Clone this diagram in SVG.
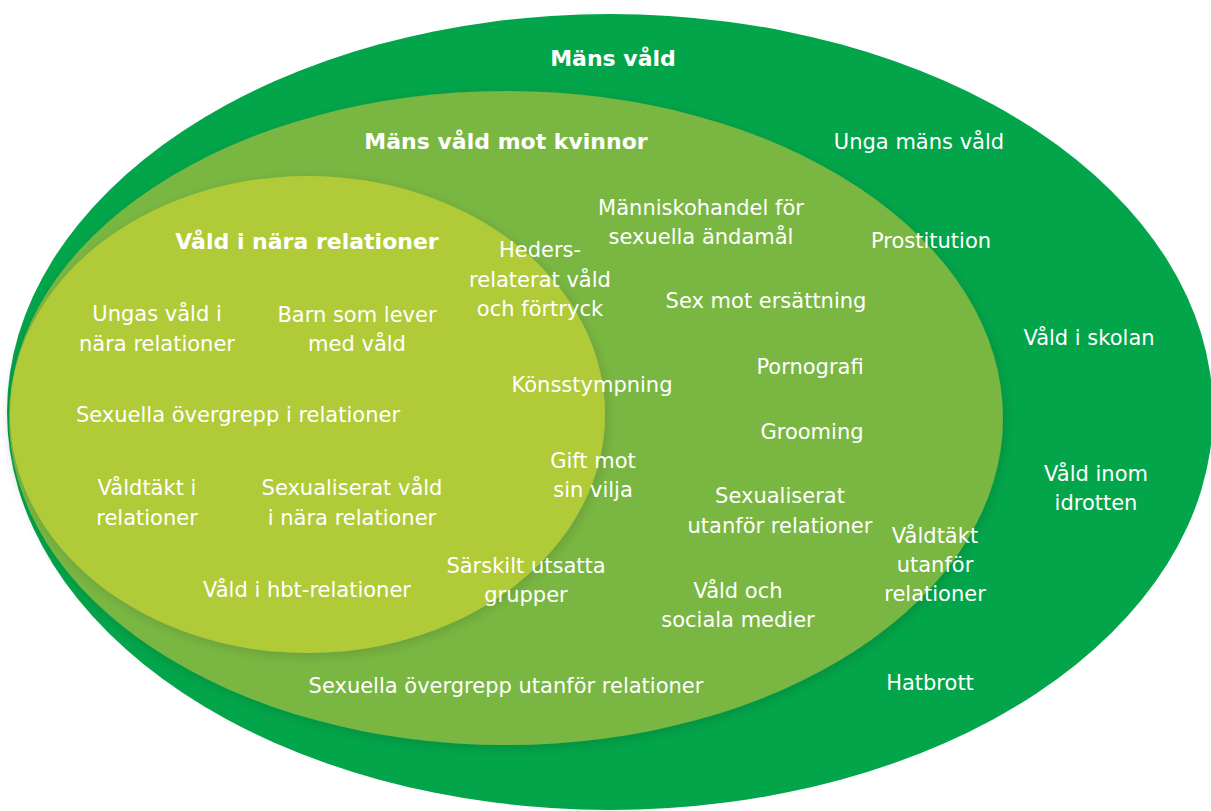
<svg xmlns="http://www.w3.org/2000/svg" width="1211" height="811" viewBox="0 0 1211 811">
<style>
text{font-family:"DejaVu Sans","Open Sans",sans-serif;fill:#ffffff;text-anchor:middle;font-size:21px}
.t{font-weight:700;font-size:22px}
</style>
<defs>
<filter id="sh" x="-10%" y="-10%" width="120%" height="120%">
<feDropShadow dx="2" dy="3" stdDeviation="6" flood-color="#000" flood-opacity="0.14"/>
</filter>
</defs>
<rect width="1211" height="811" fill="#ffffff"/>
<g id="mans-vald">
<ellipse cx="610" cy="412" rx="603" ry="398" fill="#03a54a"/>
<text class="t" x="613" y="66">Mäns våld</text>
</g>
<g id="mans-vald-mot-kvinnor">
<ellipse cx="506" cy="418" rx="497" ry="327" fill="#7ab743" filter="url(#sh)"/>
<text class="t" x="506" y="149">Mäns våld mot kvinnor</text>
</g>
<g id="vald-i-nara-relationer">
<ellipse cx="307.5" cy="414.5" rx="297.5" ry="238.5" fill="#b1cb38" filter="url(#sh)"/>
<text class="t" x="307" y="249">Våld i nära relationer</text>
</g>
<g id="outer-items">
<text x="919" y="149">Unga mäns våld</text>
<text x="931" y="248">Prostitution</text>
<text x="1089" y="345">Våld i skolan</text>
<text x="1096" y="481">Våld inom</text>
<text x="1096" y="510">idrotten</text>
<text x="935" y="543">Våldtäkt</text>
<text x="935" y="572">utanför</text>
<text x="935" y="601">relationer</text>
<text x="930" y="690">Hatbrott</text>
</g>
<g id="middle-items">
<text x="701" y="215">Människohandel för</text>
<text x="701" y="244">sexuella ändamål</text>
<text x="766" y="308">Sex mot ersättning</text>
<text x="810" y="374">Pornografi</text>
<text x="812" y="439">Grooming</text>
<text x="780" y="503">Sexualiserat</text>
<text x="780" y="533">utanför relationer</text>
<text x="738" y="598">Våld och</text>
<text x="738" y="627">sociala medier</text>
<text x="506" y="693">Sexuella övergrepp utanför relationer</text>
</g>
<g id="overlap-items">
<text x="540" y="257">Heders-</text>
<text x="540" y="287">relaterat våld</text>
<text x="540" y="316">och förtryck</text>
<text x="592" y="392">Könsstympning</text>
<text x="593" y="468">Gift mot</text>
<text x="593" y="497">sin vilja</text>
<text x="526" y="573">Särskilt utsatta</text>
<text x="526" y="602">grupper</text>
</g>
<g id="inner-items">
<text x="157" y="321">Ungas våld i</text>
<text x="157" y="351">nära relationer</text>
<text x="357" y="322">Barn som lever</text>
<text x="357" y="351">med våld</text>
<text x="238" y="422">Sexuella övergrepp i relationer</text>
<text x="147" y="495">Våldtäkt i</text>
<text x="147" y="525">relationer</text>
<text x="352" y="495">Sexualiserat våld</text>
<text x="352" y="525">i nära relationer</text>
<text x="307" y="597">Våld i hbt-relationer</text>
</g>
<g id="connectors"></g>
</svg>
